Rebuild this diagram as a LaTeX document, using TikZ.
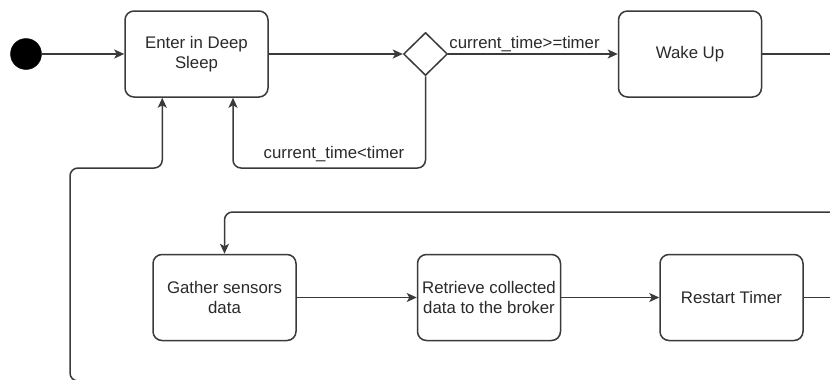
\documentclass[tikz,border=0pt]{standalone}
\usepackage{fontspec}
\setmainfont{Liberation Sans}
\usetikzlibrary{shapes.geometric,arrows.meta,calc}
\definecolor{linec}{HTML}{3A3A3A}
\definecolor{textc}{HTML}{2A2A2A}
\tikzset{
  statebox/.style={draw=linec, line width=1.5pt, rounded corners=9pt, fill=white,
    minimum width=143pt, minimum height=86pt, inner sep=0pt, align=center,
    text=textc, font=\fontsize{16.8pt}{19.5pt}\selectfont},
  flow/.style={draw=linec, line width=1.5pt, rounded corners=8pt,
    -{Stealth[length=10pt,width=9pt,inset=2.5pt]}},
  plain/.style={draw=linec, line width=1.5pt, rounded corners=8pt},
  lbl/.style={text=textc, font=\fontsize{16.8pt}{19.5pt}\selectfont, inner sep=1pt}
}
\begin{document}
\begin{tikzpicture}[x=1pt,y=-1pt]
\useasboundingbox (0,0) rectangle (830,380);
\clip (0,0) rectangle (830,380);
% nodes
\node[circle, fill=black, draw=black, minimum size=31pt, inner sep=0pt] (start) at (26,54) {};
\node[statebox] (sleep) at (196.5,54) {Enter in Deep\\Sleep};
\node[diamond, draw=linec, line width=1.5pt, fill=white, minimum width=44pt, minimum height=43pt, inner sep=0pt] (dec) at (425.5,54) {};
\node[statebox] (wake) at (690,54) {Wake Up};
\node[statebox] (gather) at (224.5,297.5) {Gather sensors\\data};
\node[statebox] (retr) at (489,297.5) {Retrieve collected\\data to the broker};
\node[statebox] (restart) at (731.5,297.5) {Restart Timer};
% off-picture coordinates
\coordinate (wexit) at (850,54);
\coordinate (rin) at (850,212);
\coordinate (rexit) at (850,297.5);
\coordinate (blin) at (130,381);
\coordinate (loopL) at (233,168);
\coordinate (loopB) at (70,168);
% connectors
\draw[flow] (start) -- (sleep);
\draw[flow] (sleep) -- (dec);
\draw[flow] (dec) -- node[lbl, above, pos=0.45] {current\_time>=timer} (wake);
\draw[flow] (dec.south) |- (loopL) -- (loopL |- sleep.south);
\node[lbl] (lt) at (334,154) {current\_time<timer};
\draw[plain] (wake) -- (wexit);
\draw[flow] (rin) -| (gather.north);
\draw[flow] (gather) -- (retr);
\draw[flow] (retr) -- (restart);
\draw[plain] (restart) -- (rexit);
\draw[flow] (blin) -| (loopB) -| ($(sleep.south west)+(38,0)$);
\end{tikzpicture}
\end{document}
